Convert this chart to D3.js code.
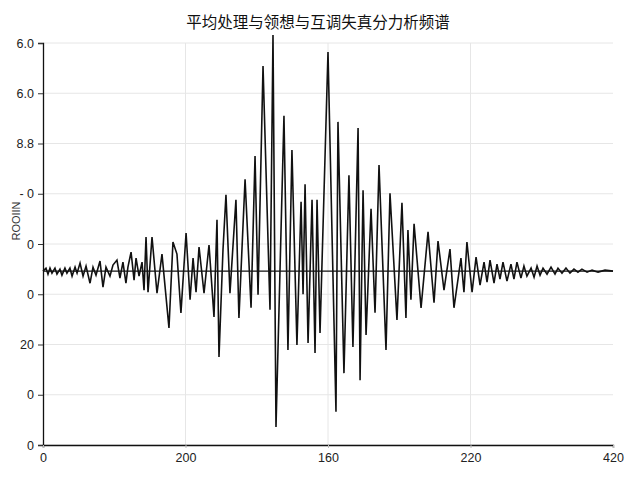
<!DOCTYPE html>
<html><head><meta charset="utf-8">
<script src="https://cdn.jsdelivr.net/npm/d3@7"></script>
<style>body{margin:0;background:#fff}svg{display:block}</style>
</head><body>
<script>
const titleText = "平均处理与领想与互调失真分力析频谱";
const yAxisLabel = "ROOIIN";
const xTickValues = [0, 100, 200, 300, 400];
const xTickLabels = ["0", "200", "160", "220", "420"];
const yTickValues = [0, 1, 2, 3, 4, 5, 6, 7, 8];
const yTickLabels = ["0", "0", "20", "0", "0", "- 0", "8.8", "6.0", "6.0"];
const baseline = 3.46;
const sigX = [0,2.1,3.5,4.9,6.3,8.4,9.8,11.9,13.3,15.4,16.8,18.9,20.4,22.5,23.9,26.0,28.1,30.2,33.0,35.1,37.2,40.0,42.1,44.2,47.0,49.1,51.9,54.0,56.1,58.2,59.6,61.8,63.9,65.3,67.4,69.5,70.9,72.3,73.7,76.5,80.0,83.5,88.4,91.2,94.0,96.8,100.4,103.2,105.3,107.4,109.5,113.0,116.5,120.0,122.1,123.5,126.3,128.4,131.2,135.4,137.5,141.8,146.0,148.8,150.9,154.4,159.3,161.4,163.5,169.1,171.9,174.7,178.2,181.1,182.5,183.9,186.0,188.8,190.9,192.3,194.4,200.0,205.6,207.0,211.2,214.7,217.5,221.1,222.5,224.6,226.7,230.2,233.0,235.8,240.7,243.5,248.4,251.9,254.7,256.1,258.2,260.4,265.3,270.2,274.4,277.2,281.4,285.6,288.4,293.3,295.4,297.5,301.1,303.9,306.7,309.5,311.6,313.7,316.5,318.6,320.7,322.8,325.6,328.4,330.5,332.6,335.4,337.5,339.6,342.5,344.6,346.7,348.8,350.9,353.7,356.5,359.3,361.4,364.2,367.0,369.8,372.6,375.4,378.2,381.8,385.3,389.5,394.4,400];
const sigY = [3.46,3.52,3.40,3.52,3.42,3.52,3.40,3.50,3.38,3.52,3.42,3.52,3.36,3.54,3.42,3.62,3.36,3.56,3.22,3.54,3.38,3.66,3.14,3.54,3.36,3.58,3.68,3.32,3.64,3.22,3.54,3.84,3.28,3.72,3.36,3.64,3.08,4.14,3.04,4.14,3.02,3.80,2.33,4.04,3.80,2.63,4.22,2.89,3.72,3.04,3.94,3.02,3.98,2.55,4.48,1.75,3.88,4.98,3.02,4.88,2.53,5.29,2.73,5.75,2.99,7.54,2.69,8.16,0.36,6.55,1.89,5.87,1.99,4.84,3.00,5.19,2.03,4.88,1.83,4.88,2.23,7.82,0.66,6.43,1.43,5.37,1.95,6.31,1.29,5.07,2.19,4.70,2.63,5.57,1.89,5.01,2.49,4.82,2.53,4.28,2.89,4.40,2.73,4.24,2.83,4.06,3.08,3.90,2.73,3.72,3.04,4.04,3.04,3.74,3.18,3.64,3.24,3.68,3.22,3.60,3.30,3.64,3.26,3.60,3.30,3.64,3.32,3.56,3.36,3.52,3.34,3.56,3.38,3.52,3.40,3.54,3.40,3.52,3.42,3.52,3.42,3.50,3.44,3.50,3.44,3.48,3.44,3.48,3.46];

const W = 640, H = 480;
const m = {l: 43, r: 27, t: 43, b: 35};
const svg = d3.select("body").append("svg").attr("width", W).attr("height", H);
const x = d3.scaleLinear().domain([0, 400]).range([m.l, W - m.r]);
const y = d3.scaleLinear().domain([0, 8]).range([H - m.b, m.t]);

// grid
svg.append("g").selectAll("line").data(yTickValues).join("line")
  .attr("x1", x(0)).attr("x2", x(400)).attr("y1", d => y(d)).attr("y2", d => y(d))
  .attr("stroke", "#e6e6e6").attr("stroke-width", 1);
svg.append("g").selectAll("line").data(xTickValues.slice(1, -1)).join("line")
  .attr("x1", d => x(d)).attr("x2", d => x(d)).attr("y1", y(0)).attr("y2", y(8))
  .attr("stroke", "#e6e6e6").attr("stroke-width", 1);

// axes
const yAxis = d3.axisLeft(y).tickValues(yTickValues).tickSize(5).tickFormat((d, i) => yTickLabels[i]);
const gy = svg.append("g").attr("transform", `translate(${m.l},0)`).call(yAxis);
gy.select(".domain").attr("stroke", "#111").attr("stroke-width", 1.3);
gy.selectAll(".tick line").attr("stroke", "#333");
gy.selectAll("text").attr("font-family", "Liberation Sans, Arial, sans-serif").attr("font-size", 12.5).attr("fill", "#222").attr("dx", "-1");

const xAxis = d3.axisBottom(x).tickValues(xTickValues).tickSize(3).tickFormat((d, i) => xTickLabels[i]);
const gx = svg.append("g").attr("transform", `translate(0,${H - m.b})`).call(xAxis);
gx.select(".domain").attr("stroke", "#111").attr("stroke-width", 1.3);
gx.selectAll(".tick line").attr("stroke", "#bbb");
gx.selectAll("text").attr("font-family", "Liberation Sans, Arial, sans-serif").attr("font-size", 12.5).attr("fill", "#222").attr("dy", "0.9em");

// baseline
svg.append("line").attr("x1", x(0)).attr("x2", x(400)).attr("y1", y(baseline)).attr("y2", y(baseline))
  .attr("stroke", "#111").attr("stroke-width", 1.4);

// signal
const pts = sigX.map((v, i) => [v, sigY[i]]);
svg.append("path").datum(pts)
  .attr("d", d3.line().x(d => x(d[0])).y(d => y(d[1])))
  .attr("fill", "none").attr("stroke", "#111").attr("stroke-width", 1.6).attr("stroke-linejoin", "miter");

// title
svg.append("text").attr("x", 318).attr("y", 28).attr("text-anchor", "middle")
  .attr("font-family", "Noto Sans CJK SC, sans-serif").attr("font-size", 15.5).attr("fill", "#111")
  .text(titleText);

// y label
svg.append("text").attr("transform", `translate(20,221) rotate(-90)`).attr("text-anchor", "middle")
  .attr("font-family", "Liberation Sans, Arial, sans-serif").attr("font-size", 11).attr("fill", "#333")
  .text(yAxisLabel);
</script>
</body></html>
